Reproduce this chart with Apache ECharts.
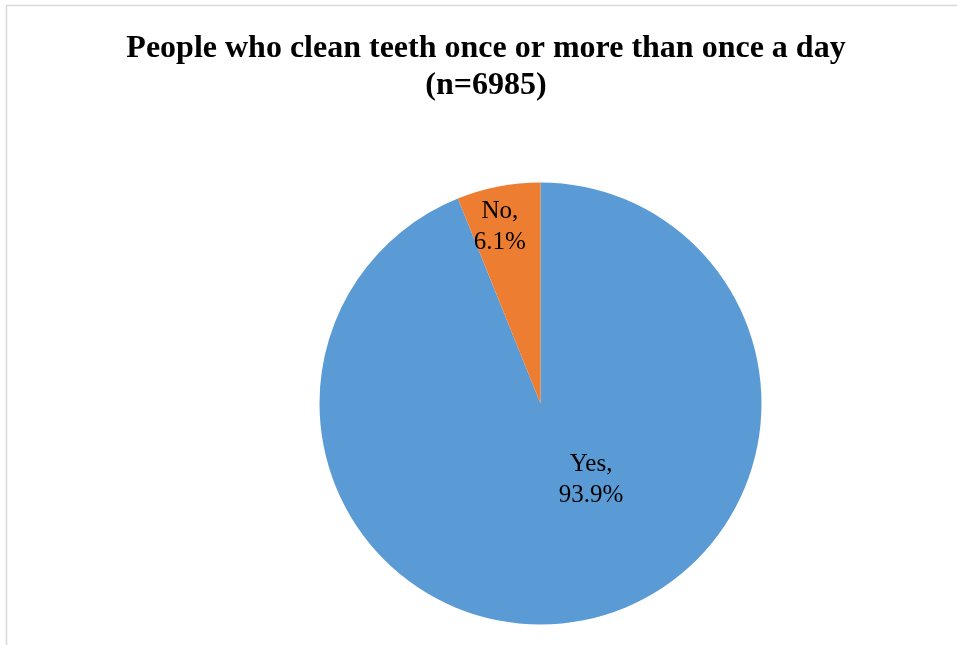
<!DOCTYPE html>
<html><head><meta charset="utf-8">
<script src="https://cdn.jsdelivr.net/npm/echarts@6/dist/echarts.min.js"></script>
<style>html,body{margin:0;padding:0;background:#fff}#c{width:957px;height:645px}</style>
</head><body><div id="c"></div>
<script>
const categories = ["Yes", "No"];
const values = [93.9, 6.1];
const colors = ["#5B9BD5", "#ED7D31"];
const titleText = "People who clean teeth once or more than once a day\n(n=6985)";

const chart = echarts.init(document.getElementById('c'), null, {renderer: 'canvas'});
const labelOffsets = [[29, -35], [-19, -65]];
chart.setOption({
  animation: false,
  graphic: [{
    type: 'rect', silent: true,
    shape: {x: 6.5, y: 5.5, width: 1000, height: 700},
    style: {fill: 'none', stroke: '#d9d9d9', lineWidth: 1.5}
  }],
  title: {
    text: titleText,
    left: 481, top: 25, textAlign: 'center',
    textStyle: {fontFamily: 'Liberation Serif', fontWeight: 'bold', fontSize: 32, color: '#000', lineHeight: 37}
  },
  series: [{
    type: 'pie',
    center: [540.5, 403.5],
    radius: 221,
    startAngle: 90,
    clockwise: true,
    emphasis: {disabled: true},
    itemStyle: {borderWidth: 0},
    label: {
      position: 'inside',
      fontFamily: 'Liberation Serif', fontSize: 25, color: '#000', lineHeight: 31,
      formatter: p => p.name + ',\n' + p.value.toFixed(1) + '%'
    },
    data: categories.map((c, i) => ({
      name: c, value: values[i],
      itemStyle: {color: colors[i]},
      label: {offset: labelOffsets[i]}
    }))
  }]
});
</script></body></html>
